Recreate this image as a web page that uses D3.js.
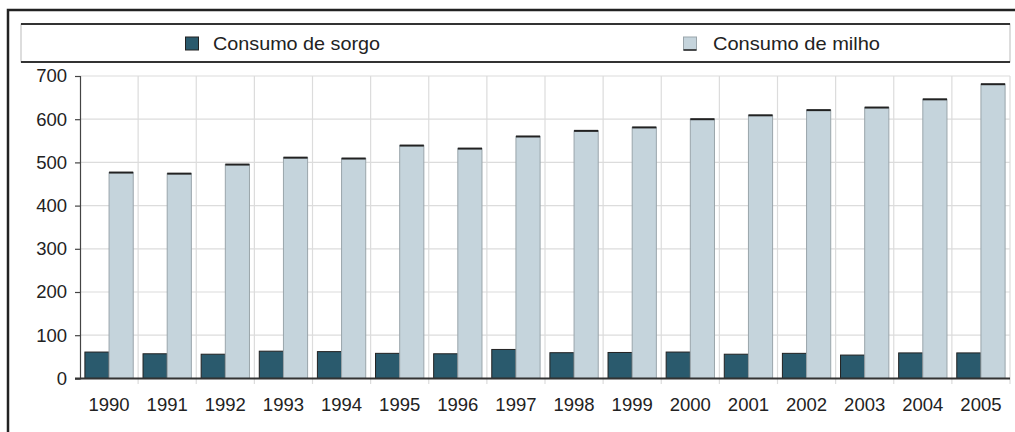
<!DOCTYPE html>
<html>
<head>
<meta charset="utf-8">
<script src="https://cdn.jsdelivr.net/npm/d3@7/dist/d3.min.js"></script>
<style>
  html, body { margin: 0; padding: 0; background: #fff; }
  svg { display: block; }
  text { font-family: "Liberation Sans", Arial, sans-serif; fill: #222; }
</style>
</head>
<body>
<svg id="chart" width="1015" height="432"></svg>
<script>
const years = ["1990","1991","1992","1993","1994","1995","1996","1997","1998","1999","2000","2001","2002","2003","2004","2005"];
const sorgo = [61, 57, 56, 63, 62, 58, 57, 67, 59.5, 60, 61, 56, 58, 54, 59, 59];
const milho = [476.5, 474, 495, 511, 509, 539, 532, 560, 573, 581, 600, 609, 621, 627, 646, 681];
const seriesNames = ["Consumo de sorgo", "Consumo de milho"];
const yTicks = [0, 100, 200, 300, 400, 500, 600, 700];

const svg = d3.select("#chart");

// outer frame (clipped at right/bottom)
svg.append("rect").attr("x", 8).attr("y", 10).attr("width", 1030).attr("height", 450)
  .attr("fill", "none").attr("stroke", "#222").attr("stroke-width", 2.5);

// legend box
const lg = svg.append("g");
lg.append("rect").attr("x", 21).attr("y", 24).attr("width", 989).attr("height", 38)
  .attr("fill", "#fff").attr("stroke", "#bbb").attr("stroke-width", 1);
lg.append("line").attr("x1", 21).attr("x2", 1010).attr("y1", 24).attr("y2", 24).attr("stroke", "#333").attr("stroke-width", 1.8);
lg.append("line").attr("x1", 21).attr("x2", 1010).attr("y1", 62).attr("y2", 62).attr("stroke", "#333").attr("stroke-width", 1.8);

// sorgo legend
lg.append("rect").attr("x", 185.5).attr("y", 37).attr("width", 13).attr("height", 13)
  .attr("fill", "#2a5a6d").attr("stroke", "#222").attr("stroke-width", 1);
lg.append("text").attr("x", 213).attr("y", 50).attr("font-size", 18.5)
  .attr("textLength", 167).attr("lengthAdjust", "spacingAndGlyphs").text(seriesNames[0]);
// milho legend
lg.append("rect").attr("x", 683.5).attr("y", 37).attr("width", 13).attr("height", 13)
  .attr("fill", "#c5d4dc").attr("stroke", "#9aa5ab").attr("stroke-width", 1);
lg.append("line").attr("x1", 683.5).attr("x2", 696.5).attr("y1", 50).attr("y2", 50)
  .attr("stroke", "#222").attr("stroke-width", 1.5);
lg.append("text").attr("x", 713).attr("y", 50).attr("font-size", 18.5)
  .attr("textLength", 167).attr("lengthAdjust", "spacingAndGlyphs").text(seriesNames[1]);

// scales
const x = d3.scaleBand().domain(years).range([80, 1010]).padding(0);
const xs = d3.scaleBand().domain(["sorgo", "milho"]).range([4.9, x.bandwidth() - 4.9]).padding(0);
const y = d3.scaleLinear().domain([0, 700]).range([378.4, 76]);

// grid
const grid = svg.append("g");
grid.selectAll("line.h").data(yTicks.filter(d => d > 0)).enter().append("line")
  .attr("x1", 80).attr("x2", 1010).attr("y1", d => y(d)).attr("y2", d => y(d))
  .attr("stroke", "#dcdcdc").attr("stroke-width", 1.2);
const bounds = years.map(d => x(d)).slice(1).concat([x(years[years.length - 1]) + x.bandwidth()]);
grid.selectAll("line.v").data(bounds).enter().append("line")
  .attr("x1", d => d).attr("x2", d => d).attr("y1", y(700)).attr("y2", 384)
  .attr("stroke", "#dcdcdc").attr("stroke-width", 1.2);

// bars
const groups = svg.append("g").selectAll("g").data(years).enter().append("g")
  .attr("transform", d => `translate(${x(d)},0)`);

groups.append("rect")
  .attr("x", xs("sorgo")).attr("width", xs.bandwidth())
  .attr("y", (d, i) => y(sorgo[i])).attr("height", (d, i) => y(0) - y(sorgo[i]))
  .attr("fill", "#2a5a6d").attr("stroke", "#222").attr("stroke-width", 1);

groups.append("rect")
  .attr("x", xs("milho")).attr("width", xs.bandwidth())
  .attr("y", (d, i) => y(milho[i])).attr("height", (d, i) => y(0) - y(milho[i]))
  .attr("fill", "#c5d4dc").attr("stroke", "#9aa5ab").attr("stroke-width", 1);

groups.append("line")
  .attr("x1", xs("milho")).attr("x2", xs("milho") + xs.bandwidth())
  .attr("y1", (d, i) => y(milho[i])).attr("y2", (d, i) => y(milho[i]))
  .attr("stroke", "#222").attr("stroke-width", 2);

// y axis
const yAxis = d3.axisLeft(y).tickValues(yTicks).tickSize(5).tickPadding(8);
const ya = svg.append("g").attr("transform", "translate(80,0)").call(yAxis);
ya.select(".domain").attr("stroke", "#444").attr("stroke-width", 1.2);
ya.selectAll(".tick line").attr("stroke", "#444").attr("stroke-width", 1.2);
ya.selectAll(".tick text").attr("font-size", 18.5).attr("fill", "#222")
  .attr("font-family", "Liberation Sans, Arial, sans-serif");

// baseline
svg.append("line").attr("x1", 75).attr("x2", 1010).attr("y1", y(0)).attr("y2", y(0))
  .attr("stroke", "#333").attr("stroke-width", 2);

// x axis labels
const xAxis = d3.axisBottom(x).tickSize(0).tickPadding(0);
const xa = svg.append("g").attr("transform", "translate(0,398)").call(xAxis);
xa.select(".domain").remove();
xa.selectAll(".tick text").attr("font-size", 18.5).attr("fill", "#222").attr("dy", "0.71em")
  .attr("font-family", "Liberation Sans, Arial, sans-serif");
</script>
</body>
</html>
